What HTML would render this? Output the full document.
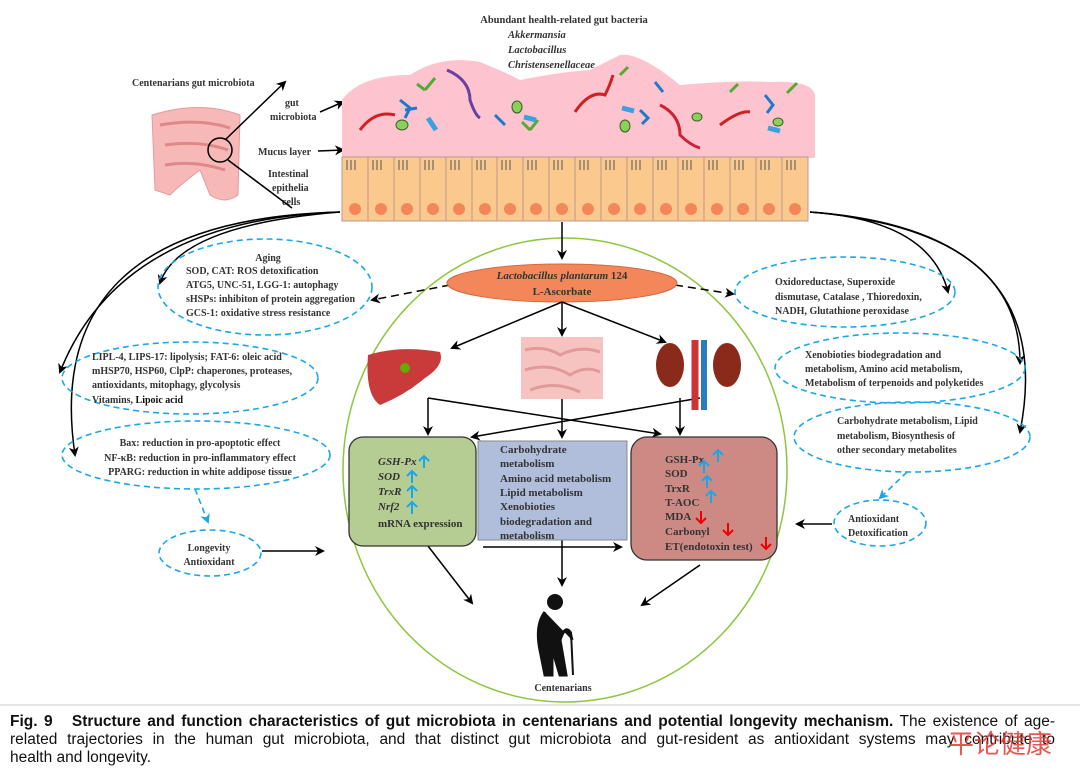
<!DOCTYPE html>
<html><head><meta charset="utf-8"><style>
html,body{margin:0;padding:0;background:#fff;width:1080px;height:779px;overflow:hidden}
svg text{font-family:"Liberation Serif",serif;font-weight:bold;fill:#333}
.cap{position:absolute;left:10px;top:713px;width:1045px;font-family:"Liberation Sans",sans-serif;font-size:15.5px;line-height:18px;color:#111;white-space:nowrap}
.cap div.j{text-align:justify;text-align-last:justify}
</style></head><body>
<svg width="1080" height="779" viewBox="0 0 1080 779" style="position:absolute;left:0;top:0">
<defs>
<marker id="a" markerWidth="10" markerHeight="10" refX="8" refY="5" orient="auto" markerUnits="userSpaceOnUse"><path d="M0,0 L10,5 L0,10 L3,5z" fill="#000"/></marker>
<marker id="b" markerWidth="10" markerHeight="10" refX="8" refY="5" orient="auto" markerUnits="userSpaceOnUse"><path d="M0,0 L10,5 L0,10 L3,5z" fill="#1aa7e8"/></marker>
</defs>
<text x="564" y="23" font-size="10.5" text-anchor="middle">Abundant health-related gut bacteria</text>
<text x="508" y="38" font-size="10.5" font-style="italic" fill="#111">Akkermansia</text>
<text x="508" y="53" font-size="10.5" font-style="italic" fill="#111">Lactobacillus</text>
<text x="508" y="68" font-size="10.5" font-style="italic" fill="#111">Christensenellaceae</text>
<text x="132" y="86" font-size="10">Centenarians gut microbiota</text>
<text x="285" y="106" font-size="10">gut</text>
<text x="270" y="120" font-size="10">microbiota</text>
<text x="258" y="155" font-size="10">Mucus layer</text>
<text x="268" y="177" font-size="10">Intestinal</text>
<text x="272" y="191" font-size="10">epithelia</text>
<text x="282" y="205" font-size="10">cells</text>
<path d="M152,115 Q200,100 240,115 L238,195 Q225,205 210,195 L200,170 Q180,185 170,195 L155,190 Z" fill="#f7b8b8" stroke="#e89a9a"/>
<path d="M160,125 Q200,118 230,128 M165,145 Q200,140 228,150 M165,165 Q195,160 225,170" stroke="#e08888" fill="none" stroke-width="3"/>
<circle cx="220" cy="150" r="12" fill="none" stroke="#000" stroke-width="1.5"/>
<line x1="225" y1="140" x2="285" y2="82" stroke="#000" stroke-width="1.5" marker-end="url(#a)"/>
<line x1="228" y1="160" x2="292" y2="208" stroke="#000" stroke-width="1.5"/>
<line x1="320" y1="112" x2="343" y2="102" stroke="#000" stroke-width="1.5" marker-end="url(#a)"/>
<line x1="318" y1="151" x2="343" y2="150" stroke="#000" stroke-width="1.5" marker-end="url(#a)"/>
<path d="M342,158 L342,100 Q360,75 410,75 Q440,55 480,62 Q505,72 520,80 Q560,72 590,70 Q610,60 620,55 Q640,52 680,85 Q740,80 770,82 Q812,80 815,95 L815,158 Z" fill="#fdc4d0"/>
<g stroke-width="3" fill="none">
<path d="M360,130 Q375,110 395,115" stroke="#c22"/><path d="M447,70 Q470,80 470,100 Q475,115 480,118" stroke="#6a3fa0"/>
<path d="M575,112 Q590,90 605,95 Q610,85 613,75" stroke="#c22"/><path d="M660,105 Q680,115 680,135 Q690,145 700,148" stroke="#c23"/>
<path d="M720,125 Q740,110 750,112" stroke="#c22"/>
<path d="M400,100 l10,8 l-5,10 M405,110 l12,-2 M640,110 l8,8 l-6,6 M765,95 l8,10 l-6,8 M495,115 l10,10 M655,82 l8,10" stroke="#1d7ac9"/>
<path d="M425,90 l10,-12 M425,90 l-8,-6 M530,130 l8,-10 M530,130 l-8,-8 M620,75 l8,-8 M730,92 l8,-8 M787,93 l10,-10" stroke="#5a3"/>
<path d="M428,118 l8,12 M524,117 l12,3 M622,108 l12,3 M768,128 l12,3" stroke="#3aa0e0" stroke-width="5"/>
</g>
<g fill="#8ccf5a" stroke="#3a6020"><ellipse cx="402" cy="125" rx="6" ry="5"/><ellipse cx="517" cy="107" rx="5" ry="6"/><ellipse cx="625" cy="126" rx="5" ry="6"/><ellipse cx="697" cy="117" rx="5" ry="4"/><ellipse cx="778" cy="122" rx="5" ry="4"/></g>
<rect x="342" y="157" width="466" height="64" fill="#fbc98e" stroke="#b99"/>
<g stroke="#b98" stroke-width="1">
<path d="M368,157v64M394,157v64M420,157v64M446,157v64M472,157v64M497,157v64M523,157v64M549,157v64M575,157v64M601,157v64M627,157v64M653,157v64M678,157v64M704,157v64M730,157v64M756,157v64M782,157v64"/>
</g>
<g fill="#f4875a">
<circle cx="355" cy="209" r="6"/><circle cx="381" cy="209" r="6"/><circle cx="407" cy="209" r="6"/><circle cx="433" cy="209" r="6"/><circle cx="459" cy="209" r="6"/><circle cx="485" cy="209" r="6"/><circle cx="510" cy="209" r="6"/><circle cx="536" cy="209" r="6"/><circle cx="562" cy="209" r="6"/><circle cx="588" cy="209" r="6"/><circle cx="614" cy="209" r="6"/><circle cx="640" cy="209" r="6"/><circle cx="666" cy="209" r="6"/><circle cx="691" cy="209" r="6"/><circle cx="717" cy="209" r="6"/><circle cx="743" cy="209" r="6"/><circle cx="769" cy="209" r="6"/><circle cx="795" cy="209" r="6"/>
</g>
<g fill="none" stroke="#555" stroke-width="1"><path d="M347,160v10M351,160v10M355,160v10M373,160v10M377,160v10M381,160v10M399,160v10M403,160v10M407,160v10M425,160v10M429,160v10M433,160v10M451,160v10M455,160v10M459,160v10M477,160v10M481,160v10M485,160v10M502,160v10M506,160v10M510,160v10M528,160v10M532,160v10M536,160v10M554,160v10M558,160v10M562,160v10M580,160v10M584,160v10M588,160v10M606,160v10M610,160v10M614,160v10M632,160v10M636,160v10M640,160v10M658,160v10M662,160v10M666,160v10M683,160v10M687,160v10M691,160v10M709,160v10M713,160v10M717,160v10M735,160v10M739,160v10M743,160v10M761,160v10M765,160v10M769,160v10M787,160v10M791,160v10M795,160v10"/></g>
<ellipse cx="565" cy="470" rx="222" ry="232" fill="none" stroke="#8dc63f" stroke-width="1.5"/>
<line x1="562" y1="222" x2="562" y2="258" stroke="#000" stroke-width="1.5" marker-end="url(#a)"/>
<g fill="none" stroke="#000" stroke-width="1.5">
<path d="M340,212 Q180,225 160,283" marker-end="url(#a)"/>
<path d="M340,212 Q120,220 60,372" marker-end="url(#a)"/>
<path d="M340,212 Q40,220 75,455" marker-end="url(#a)"/>
<path d="M810,212 Q930,220 948,292" marker-end="url(#a)"/>
<path d="M810,212 Q1020,230 1020,363" marker-end="url(#a)"/>
<path d="M810,212 Q1060,230 1020,432" marker-end="url(#a)"/>
</g>
<g fill="none" stroke="#1aa7e8" stroke-width="1.6" stroke-dasharray="6,4">
<ellipse cx="265" cy="287" rx="107" ry="48"/>
<ellipse cx="190" cy="378" rx="128" ry="36"/>
<ellipse cx="196" cy="455" rx="134" ry="34"/>
<ellipse cx="210" cy="553" rx="51" ry="23"/>
<ellipse cx="845" cy="292" rx="110" ry="35"/>
<ellipse cx="900" cy="368" rx="125" ry="35"/>
<ellipse cx="912" cy="437" rx="118" ry="35"/>
<ellipse cx="880" cy="523" rx="46" ry="23"/>
<path d="M195,489 L208,522" marker-end="url(#b)"/>
<path d="M907,472 L880,498" marker-end="url(#b)"/>
</g>
<line x1="262" y1="551" x2="323" y2="551" stroke="#000" stroke-width="1.5" marker-end="url(#a)"/>
<line x1="832" y1="524" x2="797" y2="524" stroke="#000" stroke-width="1.5" marker-end="url(#a)"/>
<path d="M450,285 L372,300" stroke="#000" stroke-width="1.5" stroke-dasharray="8,5" marker-end="url(#a)"/>
<path d="M675,285 L733,294" stroke="#000" stroke-width="1.5" stroke-dasharray="8,5" marker-end="url(#a)"/>
<g font-size="10">
<text x="268" y="261" text-anchor="middle">Aging</text>
<text x="186" y="274">SOD, CAT: ROS detoxification</text>
<text x="186" y="288">ATG5, UNC-51, LGG-1: autophagy</text>
<text x="186" y="302" fill="#111">sHSPs: inhibiton of protein aggregation</text>
<text x="186" y="316">GCS-1: oxidative stress resistance</text>
<text x="92" y="360">LIPL-4, LIPS-17: lipolysis; FAT-6: oleic acid</text>
<text x="92" y="374">mHSP70, HSP60, ClpP: chaperones, proteases,</text>
<text x="92" y="388">antioxidants, mitophagy, glycolysis</text>
<text x="92" y="403">Vitamins, <tspan fill="#111">Lipoic acid</tspan></text>
<text x="200" y="446" text-anchor="middle">Bax: reduction in pro-apoptotic effect</text>
<text x="200" y="461" text-anchor="middle">NF-κB: reduction in pro-inflammatory effect</text>
<text x="200" y="475" text-anchor="middle">PPARG: reduction in white addipose tissue</text>
<text x="209" y="551" text-anchor="middle">Longevity</text>
<text x="209" y="565" text-anchor="middle">Antioxidant</text>
<text x="775" y="285" fill="#111">Oxidoreductase, Superoxide</text>
<text x="775" y="300" fill="#111">dismutase,  Catalase , Thioredoxin,</text>
<text x="775" y="314" fill="#111">NADH, Glutathione peroxidase</text>
<text x="805" y="358">Xenobioties biodegradation and</text>
<text x="805" y="372">metabolism, Amino acid metabolism,</text>
<text x="805" y="386">Metabolism of terpenoids and polyketides</text>
<text x="837" y="424">Carbohydrate metabolism, Lipid</text>
<text x="837" y="439">metabolism, Biosynthesis of</text>
<text x="837" y="453">other secondary metabolites</text>
<text x="848" y="522">Antioxidant</text>
<text x="848" y="536">Detoxification</text>
</g>
<ellipse cx="562" cy="283" rx="115" ry="19" fill="#f4875a" stroke="#d06a40"/>
<text x="562" y="279" font-size="11" text-anchor="middle" fill="#111"><tspan font-style="italic">Lactobacillus plantarum</tspan> 124</text>
<text x="562" y="295" font-size="11" text-anchor="middle" fill="#c00">L-Ascorbate</text>
<g stroke="#000" stroke-width="1.5" fill="none">
<line x1="562" y1="302" x2="452" y2="348" marker-end="url(#a)"/>
<line x1="562" y1="302" x2="562" y2="335" marker-end="url(#a)"/>
<line x1="562" y1="302" x2="665" y2="342" marker-end="url(#a)"/>
<line x1="428" y1="398" x2="428" y2="434" marker-end="url(#a)"/>
<line x1="428" y1="398" x2="660" y2="434" marker-end="url(#a)"/>
<line x1="562" y1="398" x2="562" y2="437" marker-end="url(#a)"/>
<line x1="700" y1="398" x2="472" y2="437" marker-end="url(#a)"/>
<line x1="680" y1="398" x2="680" y2="434" marker-end="url(#a)"/>
<line x1="428" y1="546" x2="472" y2="603" marker-end="url(#a)"/>
<line x1="562" y1="540" x2="562" y2="585" marker-end="url(#a)"/>
<line x1="483" y1="547" x2="621" y2="547" marker-end="url(#a)"/>
<line x1="700" y1="565" x2="642" y2="605" marker-end="url(#a)"/>
</g>
<path d="M368,355 Q400,345 440,352 Q445,365 425,378 Q405,395 380,405 Q365,395 368,355Z" fill="#c93a3a"/>
<circle cx="405" cy="368" r="5" fill="#6a0"/>
<rect x="521" y="337" width="82" height="62" fill="#f7c3c0"/>
<path d="M525,350 Q545,345 560,355 Q580,345 600,352 M525,370 Q550,362 570,375 Q585,365 600,372 M530,390 Q555,380 580,392" stroke="#e09a9a" stroke-width="3" fill="none"/>
<ellipse cx="670" cy="365" rx="14" ry="22" fill="#8a2a1a"/>
<ellipse cx="727" cy="365" rx="14" ry="22" fill="#8a2a1a"/>
<path d="M695,340 V410" stroke="#c33" stroke-width="7"/>
<path d="M704,340 V410" stroke="#2a7bc0" stroke-width="6"/>
<rect x="349" y="437" width="127" height="109" rx="14" fill="#b5cc93" stroke="#333" stroke-width="1.3"/>
<rect x="478" y="441" width="149" height="99" fill="#b0bedc" stroke="#888"/>
<rect x="631" y="437" width="146" height="123" rx="16" fill="#cd8a85" stroke="#333" stroke-width="1.3"/>
<g font-size="11">
<text x="378" y="465" font-style="italic" font-weight="normal">GSH-Px</text>
<text x="378" y="480" font-style="italic" fill="#111">SOD</text>
<text x="378" y="495" font-style="italic" fill="#111">TrxR</text>
<text x="378" y="510" font-style="italic" font-weight="normal">Nrf2</text>
<text x="378" y="527">mRNA expression</text>
<text x="500" y="453">Carbohydrate</text>
<text x="500" y="467">metabolism</text>
<text x="500" y="482">Amino acid metabolism</text>
<text x="500" y="496">Lipid metabolism</text>
<text x="500" y="510">Xenobioties</text>
<text x="500" y="525">biodegradation and</text>
<text x="500" y="539">metabolism</text>
<text x="665" y="463" font-weight="normal">GSH-Px</text>
<text x="665" y="477" fill="#111">SOD</text>
<text x="665" y="492" fill="#111">TrxR</text>
<text x="665" y="506" font-weight="normal">T-AOC</text>
<text x="665" y="520">MDA</text>
<text x="665" y="535">Carbonyl</text>
<text x="665" y="550">ET(endotoxin test)</text>
</g>
<g stroke="#1aa7e8" stroke-width="2" fill="none">
<path d="M424,468v-12M419,461l5,-5l5,5M412,483v-12M407,476l5,-5l5,5M412,498v-12M407,491l5,-5l5,5M412,514v-12M407,507l5,-5l5,5"/>
<path d="M718,462v-12M713,455l5,-5l5,5M704,473v-12M699,466l5,-5l5,5M707,488v-12M702,481l5,-5l5,5M711,503v-12M706,496l5,-5l5,5"/>
</g>
<g stroke="#e00" stroke-width="2" fill="none">
<path d="M701,511v12M696,518l5,5l5,-5M728,523v12M723,530l5,5l5,-5M766,537v12M761,544l5,5l5,-5"/>
</g>
<circle cx="555" cy="602" r="8" fill="#111"/>
<path d="M545,612 Q535,625 540,650 L545,675 L552,675 L552,648 L560,675 L566,675 L560,640 Q565,625 570,632 L572,640" fill="#111" stroke="#111" stroke-width="3"/>
<line x1="571" y1="632" x2="573" y2="675" stroke="#111" stroke-width="2"/>
<text x="563" y="691" font-size="10" text-anchor="middle">Centenarians</text>
<line x1="0" y1="705" x2="1080" y2="705" stroke="#ccc"/>
</svg>
<div class="cap">
<div class="j"><b>Fig. 9&nbsp;&nbsp;&nbsp;Structure and function characteristics of gut microbiota in centenarians and potential longevity mechanism.</b> The existence of age-</div>
<div class="j">related trajectories in the human gut microbiota, and that distinct gut microbiota and gut-resident as antioxidant systems may contribute to</div>
<div>health and longevity.</div>
</div>
<div style="position:absolute;left:948px;top:724px;font-family:'Noto Sans CJK SC',sans-serif;font-size:26px;color:#e53935;opacity:.85">平论健康</div>
</body></html>
